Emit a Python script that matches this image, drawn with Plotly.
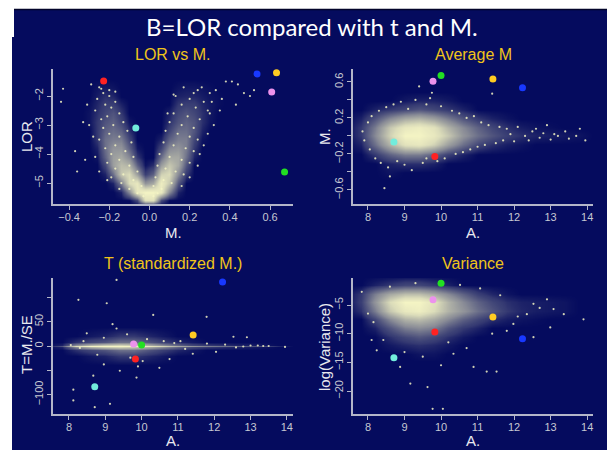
import plotly.graph_objects as go

W, H = 607, 450
NAVY = "#050b5e"
CLOUD_RGB = "244,244,196"
AXIS_C = "#b4b6c8"
TICK_C = "#c6c8d2"
GOLD_T = "#f0c41a"

# ---------------- highlighted genes ----------------
gene_names = ["red", "cyan", "blue", "gold", "violet", "green"]
gene_colors = ["#ff2222", "#72ecdc", "#1838ff", "#ffcc22", "#ec92ec", "#22e022"]
gene_M = [-0.228, -0.068, 0.535, 0.632, 0.608, 0.672]
gene_LOR = [-1.48, -3.10, -1.24, -1.20, -1.86, -4.62]
gene_A = [9.83, 8.71, 12.23, 11.42, 9.78, 10.00]
gene_T = [-27, -84, 132, 22.6, 4, 2]
gene_logvar = [-9.7, -14.2, -10.9, -7.1, -4.1, -1.2]

# ---------------- panel 1 : LOR vs M (point density) ----------------
p1_M = [-0.34, -0.30, -0.26, -0.22, -0.18, -0.14, -0.10, -0.06, -0.02, 0.02, 0.06, 0.10, 0.14, 0.18, 0.22, 0.26, 0.30, 0.34, 0.38]
p1_LOR = [-5.75, -5.58, -5.3, -5.0, -4.7, -4.4, -4.1, -3.8, -3.5, -3.2, -2.9, -2.6, -2.3, -2.0, -1.7, -1.4]
p1_density = [
    [0, 0, 0, 0, 0, 0, 0, 0, 0, 0, 0, 0, 0, 0, 0, 0, 0, 0, 0],
    [0, 0, 0, 0, 0, 0, 0, 0.15, 0.85, 0.85, 0.15, 0, 0, 0, 0, 0, 0, 0, 0],
    [0, 0, 0, 0, 0, 0.05, 0.4, 0.9, 1.0, 1.0, 0.9, 0.4, 0.05, 0, 0, 0, 0, 0, 0],
    [0, 0, 0, 0, 0.05, 0.35, 0.8, 0.9, 0.45, 0.55, 0.95, 0.7, 0.2, 0, 0, 0, 0, 0, 0],
    [0, 0, 0, 0.05, 0.3, 0.7, 0.8, 0.5, 0.12, 0.25, 0.75, 0.8, 0.4, 0.1, 0, 0, 0, 0, 0],
    [0, 0, 0, 0.15, 0.5, 0.65, 0.6, 0.25, 0.02, 0.08, 0.5, 0.7, 0.55, 0.2, 0, 0, 0, 0, 0],
    [0, 0, 0.02, 0.25, 0.5, 0.55, 0.4, 0.1, 0, 0, 0.3, 0.55, 0.55, 0.3, 0.05, 0, 0, 0, 0],
    [0, 0, 0.05, 0.3, 0.45, 0.45, 0.25, 0.03, 0, 0, 0.15, 0.4, 0.45, 0.35, 0.1, 0, 0, 0, 0],
    [0, 0, 0.1, 0.3, 0.35, 0.35, 0.15, 0, 0, 0, 0.05, 0.25, 0.35, 0.35, 0.15, 0.02, 0, 0, 0],
    [0, 0, 0.1, 0.25, 0.3, 0.25, 0.08, 0, 0, 0, 0, 0.15, 0.3, 0.3, 0.2, 0.05, 0, 0, 0],
    [0, 0.02, 0.1, 0.2, 0.25, 0.15, 0.03, 0, 0, 0, 0, 0.08, 0.2, 0.25, 0.2, 0.08, 0.02, 0, 0],
    [0, 0.02, 0.08, 0.15, 0.2, 0.1, 0, 0, 0, 0, 0, 0.05, 0.15, 0.2, 0.15, 0.08, 0.03, 0, 0],
    [0, 0.01, 0.06, 0.12, 0.12, 0.05, 0, 0, 0, 0, 0, 0, 0.1, 0.12, 0.12, 0.06, 0.03, 0.01, 0],
    [0, 0, 0.04, 0.08, 0.06, 0, 0, 0, 0, 0, 0, 0, 0.05, 0.06, 0.06, 0.04, 0.02, 0.01, 0],
    [0, 0, 0.02, 0.03, 0.02, 0, 0, 0, 0, 0, 0, 0, 0.02, 0.03, 0.03, 0.02, 0.01, 0, 0],
    [0, 0, 0, 0, 0, 0, 0, 0, 0, 0, 0, 0, 0, 0, 0, 0, 0, 0, 0],
]
p1_dots_M = [-0.25, -0.23, -0.20, -0.26, -0.17, -0.22, -0.19, -0.27, -0.15, -0.21, -0.24, -0.13, -0.18, -0.23,
             -0.11, -0.20, -0.15, -0.25, -0.09, -0.17, -0.22, -0.12, -0.19, -0.08, -0.15, -0.21, -0.10, -0.17,
             -0.06, -0.13, -0.19, -0.08, -0.14, -0.04, -0.10, -0.06, -0.03,
             0.17, 0.24, 0.30, 0.13, 0.20, 0.27, 0.16, 0.23, 0.29, 0.12, 0.19, 0.25, 0.10, 0.16, 0.22, 0.08,
             0.14, 0.20, 0.24, 0.07, 0.12, 0.18, 0.22, 0.05, 0.10, 0.16, 0.20, 0.04, 0.08, 0.13, 0.17, 0.03,
             0.07, 0.11, 0.02, 0.06, 0.04, 0.02,
             -0.43, -0.44, -0.37, -0.32, -0.36, -0.30, -0.33, -0.29, -0.24, -0.20, -0.17, -0.31, -0.28, -0.27,
             -0.25, -0.21, -0.15, 0.38, 0.41, 0.44, 0.47, 0.50, 0.52, 0.33, 0.31, 0.36, 0.35, 0.30, 0.32, 0.29,
             0.27, 0.25, 0.24, 0.20, 0.16, 0.43, 0.26, 0.22, 0.12, 0.09]
p1_dots_LOR = [-1.7, -1.9, -2.0, -2.1, -2.2, -2.3, -2.4, -2.5, -2.6, -2.7, -2.8, -2.9, -3.0, -3.1,
               -3.2, -3.3, -3.4, -3.5, -3.6, -3.7, -3.8, -3.9, -4.0, -4.1, -4.2, -4.3, -4.4, -4.5,
               -4.6, -4.7, -4.8, -4.9, -5.0, -5.1, -5.2, -5.35, -5.45,
               -1.7, -1.8, -1.9, -2.0, -2.1, -2.2, -2.3, -2.4, -2.5, -2.6, -2.7, -2.8, -2.9, -3.0, -3.1, -3.2,
               -3.3, -3.4, -3.5, -3.6, -3.7, -3.8, -3.9, -4.0, -4.1, -4.2, -4.3, -4.4, -4.5, -4.6, -4.7, -4.8,
               -4.9, -5.0, -5.1, -5.2, -5.35, -5.45,
               -1.75, -2.2, -3.9, -4.2, -4.6, -3.0, -2.9, -1.6, -1.75, -1.8, -1.85, -2.3, -3.4, -4.1,
               -4.6, -4.9, -5.2, -1.5, -1.5, -1.6, -1.9, -2.0, -1.8, -1.8, -2.2, -2.1, -2.5, -2.6, -3.0, -3.3,
               -3.7, -4.0, -4.4, -4.8, -5.1, -2.3, -1.7, -1.9, -1.95, -2.6]

# ---------------- panel 2 : M vs A ----------------
grid_A = [7.4, 7.8, 8.2, 8.6, 9.0, 9.4, 9.8, 10.2, 10.6, 11.0, 11.4, 11.8, 12.2, 12.6, 13.0, 13.4, 13.8, 14.2]
p2_M = [-0.5, -0.4, -0.3, -0.2, -0.1, 0.0, 0.1, 0.2, 0.3, 0.4, 0.5]
p2_density = [
    [0, 0, 0, 0, 0, 0, 0, 0, 0, 0, 0, 0, 0, 0, 0, 0, 0, 0],
    [0, 0, 0, 0.02, 0, 0, 0, 0, 0, 0, 0, 0, 0, 0, 0, 0, 0, 0],
    [0, 0, 0, 0.05, 0.08, 0.08, 0.05, 0, 0, 0, 0, 0, 0, 0, 0, 0, 0, 0],
    [0, 0, 0.1, 0.25, 0.35, 0.35, 0.25, 0.12, 0.05, 0, 0, 0, 0, 0, 0, 0, 0, 0],
    [0, 0.05, 0.3, 0.6, 0.85, 0.9, 0.75, 0.5, 0.3, 0.15, 0.08, 0.04, 0.02, 0, 0, 0, 0, 0],
    [0, 0.1, 0.4, 0.75, 1.0, 1.0, 0.9, 0.7, 0.45, 0.3, 0.2, 0.12, 0.08, 0.05, 0.04, 0.03, 0.02, 0],
    [0, 0.1, 0.35, 0.7, 0.9, 0.95, 0.85, 0.6, 0.4, 0.25, 0.15, 0.08, 0.04, 0.02, 0.01, 0, 0, 0],
    [0, 0.05, 0.2, 0.4, 0.55, 0.6, 0.5, 0.35, 0.2, 0.1, 0.05, 0.02, 0, 0, 0, 0, 0, 0],
    [0, 0, 0.05, 0.1, 0.15, 0.2, 0.15, 0.1, 0.05, 0, 0, 0, 0, 0, 0, 0, 0, 0],
    [0, 0, 0, 0, 0.03, 0.05, 0.05, 0.03, 0, 0, 0, 0, 0, 0, 0, 0, 0, 0],
    [0, 0, 0, 0, 0, 0, 0, 0, 0, 0, 0, 0, 0, 0, 0, 0, 0, 0],
]
p2_dots_A = [7.85, 7.9, 8.0, 8.05, 8.1, 8.2, 8.3, 8.35, 8.5, 8.55, 8.6, 8.7, 8.8, 8.9, 9.0, 9.1, 9.2, 9.3,
             9.5, 9.6, 9.7, 9.75, 9.9, 10.0, 10.1, 10.3, 10.4, 10.5, 10.6, 10.7, 10.8, 10.9, 11.0, 11.1,
             11.2, 11.3, 11.4, 11.5, 11.6, 11.7, 11.8, 11.9, 12.0, 12.1, 12.3, 12.4, 12.5, 12.6, 12.7,
             12.8, 12.9, 13.0, 13.1, 13.2, 13.4, 13.5, 13.7, 13.8, 13.95, 9.6, 8.45, 9.4]
p2_dots_M = [0.05, -0.05, 0.15, -0.15, 0.22, -0.25, 0.28, -0.3, 0.32, -0.35, -0.45, 0.35, -0.28, 0.38,
             -0.32, 0.30, -0.38, 0.40, -0.30, 0.35, 0.42, 0.48, -0.28, 0.33, -0.25, 0.28, -0.20, 0.25,
             -0.18, 0.20, -0.15, 0.22, -0.12, 0.15, -0.10, 0.12, 0.47, -0.08, 0.10, -0.05, 0.08, 0.02,
             -0.06, 0.10, 0.0, -0.05, 0.05, 0.08, -0.02, 0.03, 0.12, -0.04, 0.02, 0.0, 0.05, -0.03, 0.0,
             0.08, -0.05, -0.25, -0.58, 0.55]

# ---------------- panel 3 : T vs A ----------------
p3_T = [-60, -40, -20, -8, -3, 0, 3, 8, 20, 40, 60]
p3_density = [
    [0, 0, 0, 0, 0, 0, 0, 0, 0, 0, 0, 0, 0, 0, 0, 0, 0, 0],
    [0, 0, 0, 0, 0, 0, 0, 0, 0, 0, 0, 0, 0, 0, 0, 0, 0, 0],
    [0, 0, 0, 0.03, 0.05, 0.1, 0.1, 0.06, 0.03, 0, 0, 0, 0, 0, 0, 0, 0, 0],
    [0, 0, 0.08, 0.15, 0.2, 0.3, 0.3, 0.2, 0.12, 0.06, 0.03, 0, 0, 0, 0, 0, 0, 0],
    [0, 0.05, 0.4, 0.6, 0.7, 0.75, 0.7, 0.55, 0.4, 0.25, 0.15, 0.1, 0.08, 0.05, 0.04, 0.02, 0, 0],
    [0, 0.2, 0.8, 1.0, 1.0, 1.0, 1.0, 0.9, 0.75, 0.55, 0.45, 0.35, 0.3, 0.25, 0.2, 0.15, 0.05, 0],
    [0, 0.05, 0.4, 0.6, 0.7, 0.75, 0.7, 0.55, 0.4, 0.25, 0.15, 0.1, 0.08, 0.05, 0.04, 0.02, 0, 0],
    [0, 0, 0.08, 0.15, 0.2, 0.3, 0.3, 0.2, 0.12, 0.06, 0.03, 0, 0, 0, 0, 0, 0, 0],
    [0, 0, 0, 0.03, 0.05, 0.1, 0.1, 0.06, 0.03, 0, 0, 0, 0, 0, 0, 0, 0, 0],
    [0, 0, 0, 0, 0, 0, 0, 0, 0, 0, 0, 0, 0, 0, 0, 0, 0, 0],
    [0, 0, 0, 0, 0, 0, 0, 0, 0, 0, 0, 0, 0, 0, 0, 0, 0, 0],
]
p3_dots_A = [8.26, 9.31, 9.04, 10.32, 9.31, 8.49, 11.79, 12.53, 12.9, 8.12, 8.12, 8.71, 9.13, 8.67, 9.4,
             9.86, 10.49, 10.03, 8.96, 8.78, 9.69, 10.77, 11.41, 12.05, 8.4, 8.96, 9.6, 10.15, 10.61,
             11.07, 11.8, 13.5, 13.95, 13.2, 12.8, 8.05, 8.3, 9.2, 9.9, 10.9, 11.2, 12.3, 12.6, 13.0, 13.35]
p3_dots_T = [95, 136, 88, 64, 36, 26, 60, 19, 18, -90, -112, -126, -119, -61, -51, -65, -45, -31, -38,
             -18, -24, -27, -16, -12, 10, 17, 24, 14, 10, 10, 5, 0, -2, 1, -1, 2, -4, 45, -42, 6, -6,
             3, -3, 1, 0]

# ---------------- panel 4 : log(Variance) vs A ----------------
p4_V = [-15.0, -13.5, -12.0, -10.5, -9.0, -7.5, -6.0, -4.5, -3.0, -1.5, 0.0]
p4_density = [
    [0, 0, 0, 0, 0, 0, 0, 0, 0, 0, 0, 0, 0, 0, 0, 0, 0, 0],
    [0, 0, 0, 0, 0, 0.02, 0.02, 0, 0, 0, 0, 0, 0, 0, 0, 0, 0, 0],
    [0, 0, 0, 0.03, 0.06, 0.08, 0.06, 0.03, 0, 0, 0, 0, 0, 0, 0, 0, 0, 0],
    [0, 0, 0, 0.08, 0.15, 0.2, 0.15, 0.08, 0.03, 0, 0, 0, 0, 0, 0, 0, 0, 0],
    [0, 0, 0.05, 0.2, 0.35, 0.4, 0.35, 0.2, 0.1, 0.05, 0, 0, 0, 0, 0, 0, 0, 0],
    [0, 0, 0.15, 0.4, 0.6, 0.65, 0.55, 0.4, 0.25, 0.15, 0.08, 0.04, 0.02, 0.01, 0, 0, 0, 0],
    [0, 0.08, 0.35, 0.7, 0.9, 0.95, 0.8, 0.6, 0.45, 0.3, 0.2, 0.1, 0.06, 0.04, 0.03, 0.02, 0, 0],
    [0, 0.12, 0.45, 0.8, 1.0, 1.0, 0.85, 0.6, 0.4, 0.25, 0.15, 0.08, 0.05, 0.04, 0.03, 0.02, 0, 0],
    [0, 0.1, 0.35, 0.55, 0.65, 0.65, 0.55, 0.4, 0.25, 0.12, 0.06, 0.02, 0, 0, 0, 0, 0, 0],
    [0, 0, 0.05, 0.1, 0.15, 0.15, 0.1, 0.05, 0, 0, 0, 0, 0, 0, 0, 0, 0, 0],
    [0, 0, 0, 0, 0, 0, 0, 0, 0, 0, 0, 0, 0, 0, 0, 0, 0, 0],
]
p4_dots_A = [7.83, 8.1, 8.24, 8.42, 8.88, 9.16, 9.63, 9.77, 10.05, 10.0, 10.34, 10.89, 11.25, 11.52, 11.98,
             12.53, 12.9, 13.08, 13.36, 13.9, 12.35, 11.8, 12.53, 12.99, 11.07, 11.62, 8.6, 9.3, 10.52,
             8.0, 8.15, 9.5, 10.7, 11.4, 12.1, 12.7, 9.0, 10.2]
p4_dots_V = [-2.7, -11.1, -12.9, -11.1, -15.8, -18.7, -19.3, -23.1, -23.1, -15.5, -13.5, -15.8, -16.6,
             -16.6, -8.3, -4.8, -4.0, -5.7, -6.6, -7.5, -6.6, -9.5, -10.6, -8.9, -2.1, -3.3, -1.8, -1.2,
             -1.5, -6.5, -8.0, -14.0, -12.5, -10.0, -7.0, -5.5, -13.2, -11.5]

# ---------------- figure ----------------
fig = go.Figure()

cscale = [[0.0, f"rgba({CLOUD_RGB},0)"], [0.1, f"rgba({CLOUD_RGB},0.2)"],
          [0.4, f"rgba({CLOUD_RGB},0.55)"], [0.8, f"rgba({CLOUD_RGB},0.9)"], [1.0, f"rgba({CLOUD_RGB},1)"]]


def add_cloud(xg, yg, z, dx, dy, ax):
    fig.add_trace(go.Heatmap(x=xg, y=yg, z=z, zsmooth="best", colorscale=cscale, zmin=0, zmax=1,
                             showscale=False, hoverinfo="skip", xaxis="x" + ax, yaxis="y" + ax))
    fig.add_trace(go.Scatter(x=dx, y=dy, mode="markers", hoverinfo="skip",
                             marker=dict(size=2.2, color=f"rgba({CLOUD_RGB},0.85)", line=dict(width=0)),
                             xaxis="x" + ax, yaxis="y" + ax))


def add_genes(gx, gy, ax):
    fig.add_trace(go.Scatter(x=gx, y=gy, mode="markers", hoverinfo="skip",
                             marker=dict(size=7, color=gene_colors, line=dict(width=0)),
                             xaxis="x" + ax, yaxis="y" + ax))


add_cloud(p1_M, p1_LOR, p1_density, p1_dots_M, p1_dots_LOR, "")
add_genes(gene_M, gene_LOR, "")
add_cloud(grid_A, p2_M, p2_density, p2_dots_A, p2_dots_M, "2")
add_genes(gene_A, gene_M, "2")
add_cloud(grid_A, p3_T, p3_density, p3_dots_A, p3_dots_T, "3")
add_genes(gene_A, gene_T, "3")
add_cloud(grid_A, p4_V, p4_density, p4_dots_A, p4_dots_V, "4")
add_genes(gene_A, gene_logvar, "4")


def px_x(v):
    return v / W


def px_y(v):
    return 1 - v / H


tickfont = dict(family="Liberation Sans, Arial, sans-serif", size=11, color=TICK_C)
axis_common = dict(showline=True, linecolor=AXIS_C, linewidth=1.5, ticks="outside", ticklen=4,
                   tickcolor=AXIS_C, tickwidth=1, showgrid=False, zeroline=False, tickfont=tickfont)

left_dom = [px_x(53), px_x(293)]
right_dom = [px_x(353), px_x(593)]
top_dom = [px_y(204), px_y(69)]
bot_dom = [px_y(414), px_y(278)]


def xa(dom, rng, vals, text, anchor):
    d = dict(axis_common)
    d.update(domain=dom, range=rng, tickvals=vals, ticktext=text, anchor=anchor, ticklabelstandoff=-2)
    return d


def ya(dom, rng, vals, text, anchor):
    d = dict(axis_common)
    d.update(domain=dom, range=rng, tickvals=vals, ticktext=text, anchor=anchor, tickangle=-90)
    return d


A_ticks = [8, 9, 10, 11, 12, 13, 14]
A_text = [str(v) for v in A_ticks]

fig.update_layout(
    width=W, height=H, margin=dict(l=0, r=0, t=0, b=0),
    paper_bgcolor=NAVY, plot_bgcolor="rgba(0,0,0,0)", showlegend=False,
    xaxis=xa(left_dom, [-0.48, 0.714], [-0.4, -0.2, 0, 0.2, 0.4, 0.6],
             ["\u22120.4", "\u22120.2", "0.0", "0.2", "0.4", "0.6"], "y"),
    yaxis=ya(top_dom, [-5.72, -1.07], [-5, -4, -3, -2], ["\u22125", "\u22124", "\u22123", "\u22122"], "x"),
    xaxis2=xa(right_dom, [7.59, 14.16], A_ticks, A_text, "y2"),
    yaxis2=ya(top_dom, [-0.756, 0.744], [-0.6, -0.4, -0.2, 0, 0.2, 0.4, 0.6],
              ["\u22120.6", "", "\u22120.2", "", "0.2", "", "0.6"], "x2"),
    xaxis3=xa(left_dom, [7.56, 14.17], A_ticks, A_text, "y3"),
    yaxis3=ya(bot_dom, [-140, 140], [-100, -50, 0, 50, 100], ["\u2212100", "", "0", "50", ""], "x3"),
    xaxis4=xa(right_dom, [7.59, 14.16], A_ticks, A_text, "y4"),
    yaxis4=ya(bot_dom, [-24.0, -0.29], [-20, -15, -10, -5], ["\u221220", "\u221215", "\u221210", "\u22125"], "x4"),
)

# white page margins around the navy slide
fig.add_shape(type="rect", xref="paper", yref="paper", x0=0, x1=1, y0=px_y(9), y1=1,
              fillcolor="white", line_width=0, layer="below")
fig.add_shape(type="rect", xref="paper", yref="paper", x0=0, x1=px_x(14), y0=px_y(37), y1=1,
              fillcolor="white", line_width=0, layer="below")
fig.add_shape(type="rect", xref="paper", yref="paper", x0=0, x1=px_x(12), y0=0, y1=px_y(37),
              fillcolor="white", line_width=0, layer="below")
fig.add_shape(type="line", xref="paper", yref="paper", x0=px_x(14), x1=1, y0=px_y(9.5), y1=px_y(9.5),
              line=dict(color="#02042a", width=1.5), layer="below")

ann = []
ann.append(dict(text="B=LOR compared with t and M.", x=px_x(312), y=px_y(26), xref="paper", yref="paper",
                showarrow=False, font=dict(family="Lato, Open Sans, sans-serif", size=24, color="white"),
                xanchor="center", yanchor="middle"))
title_font = dict(family="Liberation Sans, Arial, sans-serif", size=16, color=GOLD_T)
for txt, cx, cy in [("LOR vs M.", 173, 54), ("Average M", 473, 54),
                    ("T (standardized M.)", 173, 263), ("Variance", 473, 263)]:
    ann.append(dict(text=txt, x=px_x(cx), y=px_y(cy), xref="paper", yref="paper", showarrow=False,
                    font=title_font, xanchor="center", yanchor="middle"))
lab_font = dict(family="Liberation Sans, Arial, sans-serif", size=15, color="#e8e8ee")
for txt, cx, cy, ang in [("M.", 173, 232, 0), ("A.", 473, 232, 0), ("A.", 173, 440, 0), ("A.", 473, 440, 0),
                         ("LOR", 26, 137, -90), ("M.", 324, 137, -90), ("T=M./SE", 26, 345, -90),
                         ("log(Variance)", 324, 347, -90)]:
    ann.append(dict(text=txt, x=px_x(cx), y=px_y(cy), xref="paper", yref="paper", showarrow=False,
                    font=lab_font, textangle=ang, xanchor="center", yanchor="middle"))
fig.update_layout(annotations=ann)

fig.write_html("out.html", config={"displayModeBar": False},
               post_script="document.body.style.margin='0px';")
